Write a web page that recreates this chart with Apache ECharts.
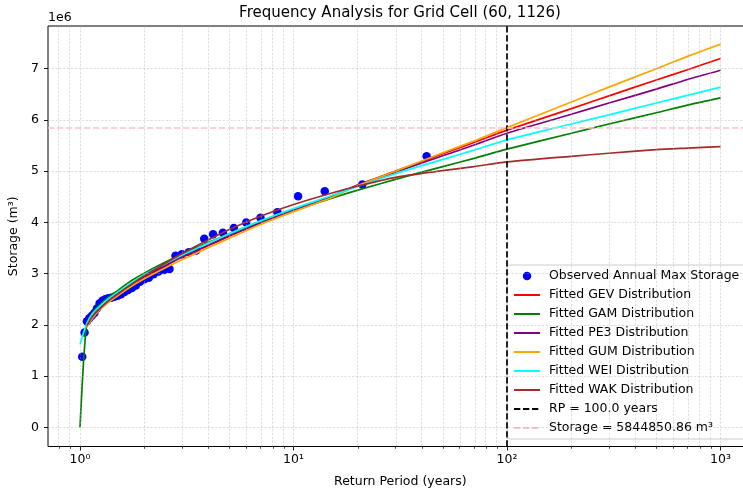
<!DOCTYPE html>
<html>
<head>
<meta charset="utf-8">
<script src="https://cdn.jsdelivr.net/npm/echarts@6/dist/echarts.min.js"></script>
<style>
  html, body { margin: 0; padding: 0; background: #ffffff; }
  #chart { width: 743px; height: 491px; }
</style>
</head>
<body>
<div id="chart"></div>
<script>
const FONT = 'DejaVu Sans';
const BASE_SIZE = 12.5;
const TITLE_SIZE = 15;

// Observed annual maxima: plotting-position return period (years) and storage (×1e6 m³)
const obsReturnPeriod = [42, 21, 14, 10.5, 8.4, 7, 6, 5.25, 4.667, 4.2, 3.818, 3.5, 3.231, 3, 2.8,
  2.625, 2.471, 2.333, 2.211, 2.1, 2, 1.909, 1.826, 1.75, 1.68, 1.615, 1.556, 1.5, 1.448, 1.4,
  1.355, 1.3125, 1.273, 1.235, 1.2, 1.167, 1.135, 1.105, 1.077, 1.05, 1.024];
const obsStorage = [5.29, 4.74, 4.61, 4.51, 4.20, 4.09, 4.00, 3.89, 3.80, 3.77, 3.68, 3.45, 3.42, 3.38, 3.35,
  3.09, 3.07, 3.04, 2.99, 2.92, 2.89, 2.84, 2.77, 2.72, 2.68, 2.64, 2.60, 2.57, 2.55, 2.53,
  2.52, 2.50, 2.47, 2.42, 2.32, 2.23, 2.18, 2.13, 2.07, 1.85, 1.38];

// Return periods at which the fitted quantile curves are evaluated
const fitReturnPeriod = [1, 1.072, 1.15, 1.25, 1.35, 1.5, 1.75, 2, 2.5, 3, 4, 5, 7, 10, 15, 20, 30, 50, 70, 100, 200, 300, 500, 700, 1000];
// Fitted storage quantiles (×1e6 m³); null where the distribution is undefined at T = 1
const gevQ = [null, 2.00, 2.20, 2.36, 2.48, 2.61, 2.80, 2.94, 3.15, 3.32, 3.55, 3.73, 4.00, 4.25, 4.51, 4.73, 5.00, 5.34, 5.56, 5.80, 6.22, 6.47, 6.78, 6.98, 7.20];
const gamQ = [0, 1.99, 2.25, 2.41, 2.53, 2.67, 2.87, 3.01, 3.22, 3.38, 3.61, 3.78, 4.01, 4.23, 4.47, 4.63, 4.84, 5.09, 5.25, 5.43, 5.74, 5.92, 6.14, 6.29, 6.43];
const pe3Q = [null, 2.00, 2.21, 2.37, 2.49, 2.62, 2.81, 2.95, 3.16, 3.33, 3.56, 3.74, 3.99, 4.24, 4.50, 4.73, 4.98, 5.30, 5.51, 5.74, 6.11, 6.33, 6.60, 6.79, 6.97];
const gumQ = [null, 1.95, 2.14, 2.31, 2.43, 2.57, 2.76, 2.90, 3.11, 3.27, 3.51, 3.69, 3.96, 4.21, 4.48, 4.72, 5.00, 5.36, 5.59, 5.85, 6.35, 6.64, 7.00, 7.24, 7.48];
const weiQ = [1.62, 2.01, 2.23, 2.38, 2.50, 2.64, 2.83, 2.98, 3.19, 3.36, 3.60, 3.78, 4.03, 4.27, 4.52, 4.70, 4.95, 5.23, 5.41, 5.61, 5.92, 6.10, 6.33, 6.48, 6.64];
const wakQ = [null, 1.97, 2.18, 2.33, 2.46, 2.60, 2.80, 2.96, 3.20, 3.39, 3.66, 3.86, 4.12, 4.35, 4.57, 4.71, 4.88, 5.01, 5.09, 5.18, 5.29, 5.35, 5.42, 5.45, 5.48];

// Design event
const designReturnPeriod = 100;
const designStorage = 5844850.86;

// Axis ticks
const xMajorExponents = [0, 1, 2, 3];
const xMajorLabels = ['10\u2070', '10\u00B9', '10\u00B2', '10\u00B3'];
const xMinorReturnPeriods = [0.8, 0.9, 2, 3, 4, 5, 6, 7, 8, 9, 20, 30, 40, 50, 60, 70, 80, 90,
  200, 300, 400, 500, 600, 700, 800, 900];
const yMajorTicks = [0, 1, 2, 3, 4, 5, 6, 7];

const distributions = [
  { name: 'Fitted GEV Distribution', values: gevQ, color: '#ff0000' },
  { name: 'Fitted GAM Distribution', values: gamQ, color: '#008000' },
  { name: 'Fitted PE3 Distribution', values: pe3Q, color: '#800080' },
  { name: 'Fitted GUM Distribution', values: gumQ, color: '#ffa500' },
  { name: 'Fitted WEI Distribution', values: weiQ, color: '#00ffff' },
  { name: 'Fitted WAK Distribution', values: wakQ, color: '#a52a2a' }
];

const lg = Math.log10;
const X_MIN = -0.15, X_MAX = 3.15;
const Y_MIN = -0.373, Y_MAX = 7.833;
const DASH = [6.3, 2.7];

const rpLabel = 'RP = ' + designReturnPeriod.toFixed(1) + ' years';
const storageLabel = 'Storage = ' + designStorage.toFixed(2) + ' m\u00B3';

const chart = echarts.init(document.getElementById('chart'), null, { renderer: 'canvas' });

const gridLineStyle = { color: '#b0b0b0', width: 0.6, type: [2.2, 1.6], opacity: 0.7 };

const series = [];

// background grid lines (major + minor on the log x-axis, major on y)
series.push({
  name: '_grid', type: 'line', data: [], silent: true, z: 0,
  markLine: {
    silent: true, animation: false, symbol: ['none', 'none'],
    label: { show: false }, lineStyle: gridLineStyle,
    data: xMajorExponents.map(v => ({ xAxis: v }))
      .concat(xMinorReturnPeriods.map(t => ({ xAxis: lg(t) })))
      .concat(yMajorTicks.map(v => ({ yAxis: v })))
  }
});

series.push({
  name: 'Observed Annual Max Storage', type: 'scatter', z: 2,
  symbol: 'circle', symbolSize: 8.5,
  itemStyle: { color: '#0000ff', opacity: 1 },
  data: obsReturnPeriod.map((t, i) => [lg(t), obsStorage[i]])
});

distributions.forEach(d => {
  const pts = [];
  fitReturnPeriod.forEach((t, i) => { if (d.values[i] !== null) pts.push([lg(t), d.values[i]]); });
  series.push({
    name: d.name, type: 'line', z: 3, symbol: 'none', showSymbol: false,
    smooth: 0.25,
    lineStyle: { color: d.color, width: 1.7 },
    itemStyle: { color: d.color },
    data: pts
  });
});

series.push({
  name: rpLabel, type: 'line', z: 4, data: [], symbol: 'none',
  lineStyle: { color: '#000000', width: 1.7, type: DASH },
  itemStyle: { color: '#000000' },
  markLine: {
    silent: true, animation: false, symbol: ['none', 'none'], label: { show: false },
    lineStyle: { color: '#000000', width: 1.7, type: DASH },
    data: [{ xAxis: lg(designReturnPeriod) }]
  }
});

series.push({
  name: storageLabel, type: 'line', z: 4, data: [], symbol: 'none',
  lineStyle: { color: '#ffc0cb', width: 1.7, type: DASH },
  itemStyle: { color: '#ffc0cb' },
  markLine: {
    silent: true, animation: false, symbol: ['none', 'none'], label: { show: false },
    lineStyle: { color: '#ffc0cb', width: 1.7, type: DASH },
    data: [{ yAxis: designStorage / 1e6 }]
  }
});

const legendNames = ['Observed Annual Max Storage']
  .concat(distributions.map(d => d.name))
  .concat([rpLabel, storageLabel]);

const option = {
  animation: false,
  backgroundColor: '#ffffff',
  textStyle: { fontFamily: FONT },
  grid: {
    left: 48, top: 26, width: 704.6, height: 420.5,
    show: true, borderColor: '#000000', borderWidth: 1, backgroundColor: 'transparent',
    containLabel: false, outerBoundsMode: 'none'
  },
  xAxis: [{
    type: 'value', min: X_MIN, max: X_MAX, position: 'bottom',
    name: 'Return Period (years)', nameLocation: 'middle', nameGap: 29,
    nameTextStyle: { fontFamily: FONT, fontSize: BASE_SIZE, color: '#000' },
    axisLine: { show: false, onZero: false },
    axisTick: { show: true, length: 4, lineStyle: { color: '#000', width: 0.9 }, customValues: xMajorExponents },
    axisLabel: {
      show: true, margin: 7, fontFamily: FONT, fontSize: BASE_SIZE, color: '#000',
      customValues: xMajorExponents,
      formatter: v => xMajorLabels[xMajorExponents.indexOf(Math.round(v))]
    },
    splitLine: { show: false }
  }, {
    type: 'value', min: X_MIN, max: X_MAX, position: 'bottom', gridIndex: 0,
    axisLine: { show: false, onZero: false },
    axisTick: { show: true, length: 2.3, lineStyle: { color: '#000', width: 0.7 },
      customValues: xMinorReturnPeriods.map(t => lg(t)) },
    axisLabel: { show: false },
    splitLine: { show: false }
  }],
  yAxis: {
    type: 'value', min: Y_MIN, max: Y_MAX,
    name: 'Storage (m\u00B3)', nameLocation: 'middle', nameGap: 23,
    nameTextStyle: { fontFamily: FONT, fontSize: BASE_SIZE, color: '#000' },
    axisLine: { show: false, onZero: false },
    axisTick: { show: true, length: 4, lineStyle: { color: '#000', width: 0.9 }, customValues: yMajorTicks },
    axisLabel: { show: true, margin: 9, fontFamily: FONT, fontSize: BASE_SIZE, color: '#000',
      customValues: yMajorTicks, formatter: v => String(Math.round(v)) },
    splitLine: { show: false }
  },
  legend: {
    show: true, orient: 'vertical', left: 507, top: 265,
    padding: [4, 6, 4, 6], itemGap: 5, itemWidth: 26, itemHeight: 8.5,
    backgroundColor: 'rgba(255,255,255,0.8)', borderColor: '#cccccc', borderWidth: 1, borderRadius: 3,
    selectedMode: false,
    textStyle: { fontFamily: FONT, fontSize: BASE_SIZE, color: '#000', lineHeight: 14, padding: [0, 0, 0, 4] },
    data: legendNames.map((n, i) => i === 0 ? { name: n, icon: 'circle' }
      : { name: n, itemStyle: { opacity: 0 } })
  },
  graphic: [
    { type: 'text', x: 400, y: 13.5, silent: true,
      style: { text: 'Frequency Analysis for Grid Cell (60, 1126)', font: TITLE_SIZE + 'px "DejaVu Sans"',
        fill: '#000', align: 'center', verticalAlign: 'middle' } },
    { type: 'text', x: 48, y: 18, silent: true,
      style: { text: '1e6', font: BASE_SIZE + 'px "DejaVu Sans"', fill: '#000', align: 'left', verticalAlign: 'middle' } }
  ],
  series: series
};

chart.setOption(option);
</script>
</body>
</html>
